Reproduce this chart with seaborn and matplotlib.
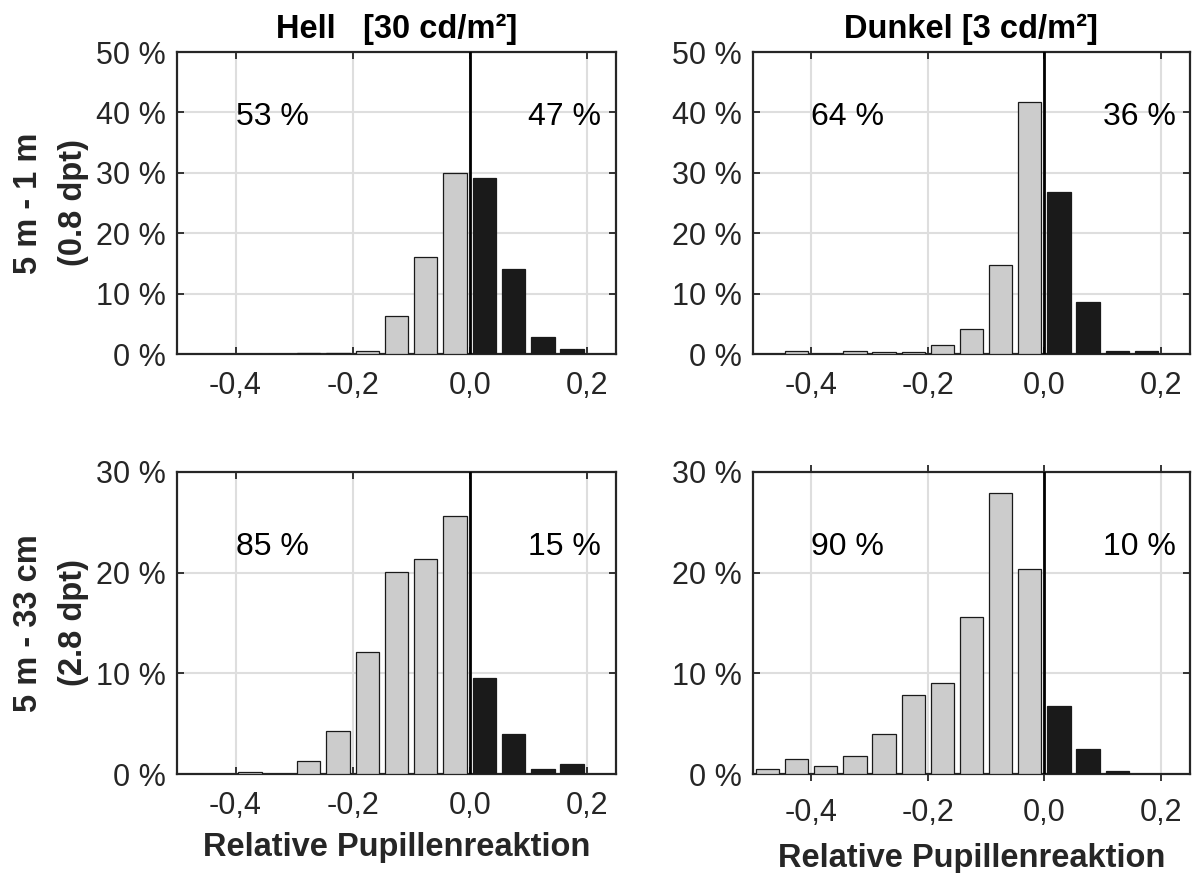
import numpy as np
import pandas as pd
import matplotlib
matplotlib.use("Agg")
import matplotlib.pyplot as plt
import matplotlib.transforms as mtransforms
import seaborn as sns

# Histogram bins of the relative pupil response (bin width 0.05)
bin_edges = [round(-0.5 + 0.05 * i, 3) for i in range(16)]
bin_centers = [round((a + b) / 2, 3) for a, b in zip(bin_edges[:-1], bin_edges[1:])]

# Share of measurements per bin in percent, left to right
hell_far = [0.0, 0.0, 0.0, 0.0, 0.2, 0.2, 0.5, 6.3, 16.1, 30.0,
            29.2, 14.1, 2.8, 0.8, 0.0]
dunkel_far = [0.0, 0.5, 0.0, 0.5, 0.3, 0.3, 1.5, 4.1, 14.8, 41.8,
              26.9, 8.6, 0.5, 0.5, 0.0]
hell_near = [0.0, 0.0, 0.23, 0.0, 1.26, 4.3, 12.1, 20.1, 21.4, 25.6,
             9.5, 4.0, 0.5, 1.0, 0.0]
dunkel_near = [0.5, 1.5, 0.76, 1.8, 4.0, 7.8, 9.0, 15.6, 27.9, 20.4,
               6.8, 2.5, 0.25, 0.0, 0.0]

# Share of negative / positive responses printed in each panel
share_labels = {
    "hell_far": ("53 %", "47 %"),
    "dunkel_far": ("64 %", "36 %"),
    "hell_near": ("85 %", "15 %"),
    "dunkel_near": ("90 %", "10 %"),
}

col_titles = ["Hell   [30 cd/m²]", "Dunkel [3 cd/m²]"]
row_labels = ["5 m - 1 m\n(0.8 dpt)", "5 m - 33 cm\n(2.8 dpt)"]
x_label = "Relative Pupillenreaktion"
x_ticks = [-0.4, -0.2, 0.0, 0.2]
x_ticklabels = ["-0,4", "-0,2", "0,0", "0,2"]
y_ticks_far = [0, 10, 20, 30, 40, 50]
y_ticks_near = [0, 10, 20, 30]

sns.set_theme(style="white")
plt.rcParams["font.family"] = ["Liberation Sans", "DejaVu Sans"]

FS_TICK = 22
FS_NOTE = 23
FS_BOLD = 23.5
LIGHT = "#cccccc"
DARK = "#1a1a1a"
EDGE = "#1a1a1a"
GRID = "#dedede"
SPINE = "#262626"

fig = plt.figure(figsize=(11.94, 8.73), dpi=100)
W, H = 1194, 873
positions = {
    (0, 0): (177, 52, 616, 354),
    (0, 1): (753, 52, 1190, 354),
    (1, 0): (177, 472, 616, 774),
    (1, 1): (753, 472, 1190, 774),
}

panels = {
    (0, 0): ("hell_far", hell_far, y_ticks_far),
    (0, 1): ("dunkel_far", dunkel_far, y_ticks_far),
    (1, 0): ("hell_near", hell_near, y_ticks_near),
    (1, 1): ("dunkel_near", dunkel_near, y_ticks_near),
}

neg_edges = [e for e in bin_edges if e <= 0]
pos_edges = [e for e in bin_edges if e >= 0]

for (r, c), (key, values, yticks) in panels.items():
    x0, y0, x1, y1 = positions[(r, c)]
    ax = fig.add_axes([x0 / W, 1 - y1 / H, (x1 - x0) / W, (y1 - y0) / H])

    df = pd.DataFrame({"center": bin_centers, "pct": values})
    neg = df[df["center"] < 0]
    pos = df[df["center"] > 0]
    sns.histplot(data=neg, x="center", weights="pct", bins=neg_edges,
                 shrink=0.8, color=LIGHT, edgecolor=EDGE, linewidth=0.9,
                 alpha=1, ax=ax, zorder=3)
    sns.histplot(data=pos, x="center", weights="pct", bins=pos_edges,
                 shrink=0.8, color=DARK, edgecolor=EDGE, linewidth=0.9,
                 alpha=1, ax=ax, zorder=3)

    ax.axvline(0, color="black", linewidth=2, zorder=4)

    ax.set_xlim(-0.5, 0.25)
    ax.set_ylim(yticks[0], yticks[-1])
    ax.set_xticks(x_ticks)
    ax.set_xticklabels(x_ticklabels)
    ax.set_yticks(yticks)
    ax.set_yticklabels([f"{v} %" for v in yticks])

    ax.grid(True, color=GRID, linewidth=1.5, zorder=0)
    ax.set_axisbelow(True)
    for s in ax.spines.values():
        s.set_color(SPINE)
        s.set_linewidth(1.6)
        s.set_visible(True)

    tick_dir = "out" if (r, c) == (1, 1) else "in"
    ax.tick_params(axis="x", which="both", direction=tick_dir, length=5, width=1.3,
                   color=SPINE, top=True, bottom=True, labelsize=FS_TICK,
                   labelcolor="#262626", pad=12)
    ax.tick_params(axis="y", which="both", direction="in", length=5, width=1.3,
                   color=SPINE, left=True, right=True, labelsize=FS_TICK,
                   labelcolor="#262626", pad=8)

    ax.set_xlabel("")
    ax.set_ylabel("")

    trans = mtransforms.blended_transform_factory(ax.transData, ax.transAxes)
    y_txt = 0.786 if r == 0 else 0.753
    left_txt, right_txt = share_labels[key]
    ax.text(-0.4, y_txt, left_txt, transform=trans, ha="left", va="center",
            fontsize=FS_NOTE, color="black", zorder=5)
    ax.text(0.225, y_txt, right_txt, transform=trans, ha="right", va="center",
            fontsize=FS_NOTE, color="black", zorder=5)

    if r == 0:
        ax.set_title(col_titles[c], fontsize=FS_BOLD, fontweight="bold",
                     color="black", pad=10)
    if c == 0:
        ax.set_ylabel(row_labels[r], fontsize=FS_BOLD, fontweight="bold",
                      linespacing=1.6, labelpad=5)
    if r == 1:
        ax.set_xlabel(x_label, fontsize=FS_BOLD, fontweight="bold",
                      labelpad=8 if c == 0 else 11)

fig.savefig("out.png", dpi=100)
